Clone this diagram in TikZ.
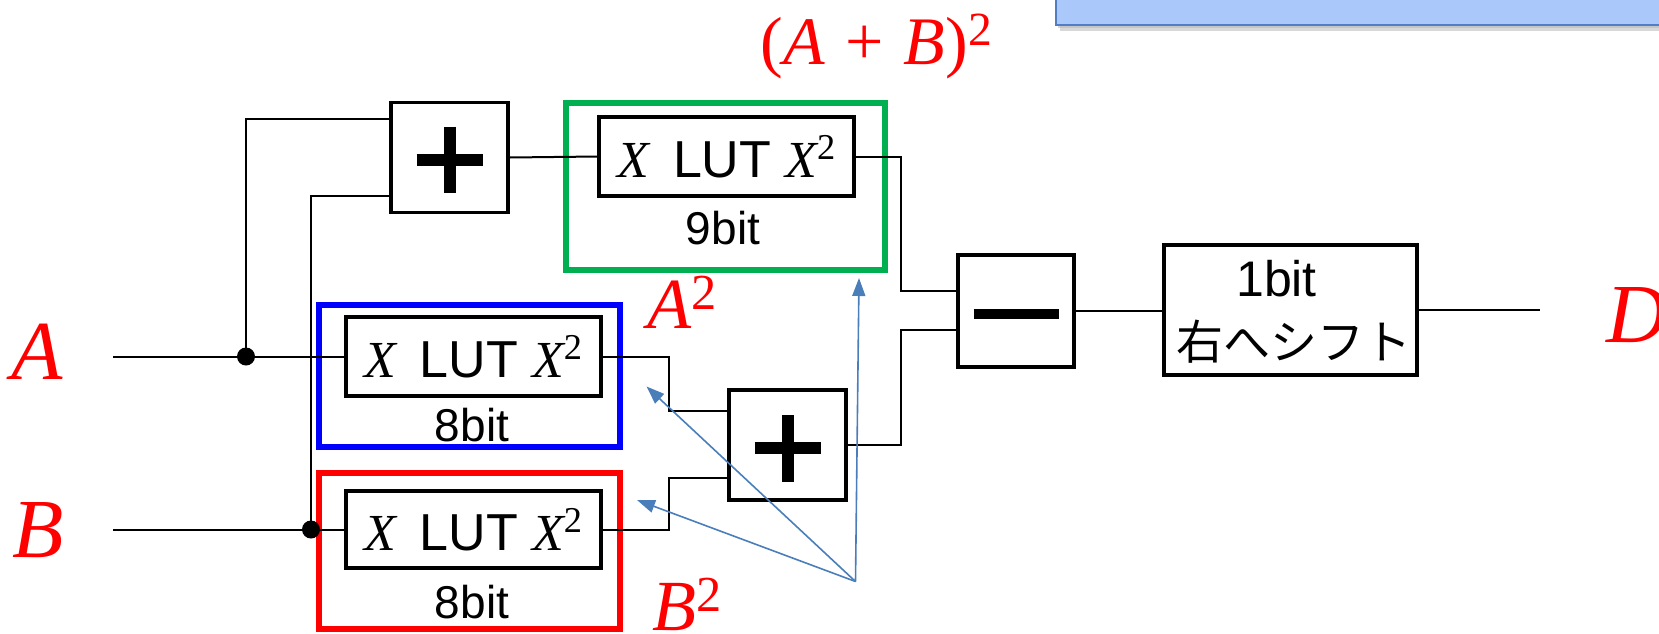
\documentclass[tikz,border=0pt]{standalone}
\usepackage{fontspec}
\setmainfont{Liberation Sans}
\newfontfamily\tms{Liberation Serif}
\newfontfamily\jp{Noto Sans CJK JP}
\usetikzlibrary{arrows.meta,calc}
\definecolor{gframe}{RGB}{0,176,80}
\definecolor{bframe}{RGB}{0,0,255}
\definecolor{rframe}{RGB}{255,0,0}
\definecolor{ptrblue}{RGB}{74,126,187}
\definecolor{hdrfill}{RGB}{170,200,250}
\definecolor{hdrline}{RGB}{80,125,195}
\newcommand{\lutX}{{\tms\itshape X}}
\newcommand{\luttext}{\lutX\hspace{12pt}LUT\hspace{7pt}\lutX\textsuperscript{\tms 2}}
\begin{document}
\begin{tikzpicture}[x=0.5pt,y=-0.5pt,
  wire/.style={line width=1pt,black},
  opbox/.style={draw,line width=1.6pt,inner sep=0pt,minimum width=58.5pt,minimum height=55pt},
  opsign/.style={line width=6pt},
  lutbox/.style={draw,line width=2pt,inner sep=0pt,minimum width=127.5pt,minimum height=39.5pt,
    font=\fontsize{26pt}{30pt}\selectfont},
  framebox/.style={draw,line width=2.6pt,inner sep=0pt},
  bitlbl/.style={inner sep=0pt,font=\fontsize{23pt}{27pt}\selectfont},
  dotn/.style={circle,fill=black,inner sep=0pt,minimum size=9pt},
  redlbl/.style={text=red,inner sep=0pt},
  pointer/.style={draw=ptrblue,line width=0.8pt,-{Triangle[length=9pt,width=6.5pt]}}]
\useasboundingbox (0,0) rectangle (1659,633);
\clip (0,0) rectangle (1659,633);

% header box (cut off at top right)
\fill[black!30,opacity=0.5] (1060,-10) rectangle (1670,31);
\fill[black!30,opacity=0.5] (1058,-10) rectangle (1670,28);
\draw[hdrline,line width=1.2pt,fill=hdrfill] (1056,-10) rectangle (1670,25);

% operator boxes
\node[opbox] (plus1) at (449.5,157.5) {};
\draw[opsign] ($(plus1.center)+(-33,2)$) -- ($(plus1.center)+(33,2)$);
\draw[opsign] ($(plus1.center)+(0,-31)$) -- ($(plus1.center)+(0,35)$);

\node[opbox] (plus2) at (787.5,445) {};
\draw[opsign] ($(plus2.center)+(-33,3)$) -- ($(plus2.center)+(33,3)$);
\draw[opsign] ($(plus2.center)+(0,-30)$) -- ($(plus2.center)+(0,37)$);

\node[opbox,minimum width=58pt,minimum height=56pt] (minus) at (1016,311) {};
\draw[line width=5pt] ($(minus.center)+(-42.5,3)$) -- ($(minus.center)+(42.5,3)$);

\node[opbox,minimum width=126.5pt,minimum height=65pt] (shift) at (1290.5,310) {};
\node[inner sep=0pt,anchor=base,font=\fontsize{25pt}{29pt}\selectfont] (shiftbit) at (1276.5,296.5) {1bit};
\node[inner sep=0pt,font=\jp\fontsize{23.5pt}{27pt}\selectfont] (shifttxt) at (1294,342) {右へシフト};

% LUT frames
\node[framebox,draw=gframe,minimum width=159.5pt,minimum height=83.5pt] (gfr) at (725.5,186.5) {};
\node[lutbox] (lutG) at (726.75,156.5) {\luttext};
\node[bitlbl,anchor=base] (bitG) at (723,244) {9bit};

\node[framebox,draw=bframe,minimum width=150.5pt,minimum height=71pt] (bfr) at (469.5,376) {};
\node[lutbox] (lutA) at (473.5,356.5) {\luttext};
\node[bitlbl,anchor=base] (bitA) at (472,441) {8bit};

\node[framebox,draw=rframe,minimum width=150.5pt,minimum height=78pt] (rfr) at (469.5,551) {};
\node[lutbox,minimum height=38.5pt] (lutB) at (473.5,529.5) {\luttext};
\node[bitlbl,anchor=base] (bitB) at (472,618) {8bit};

% inputs
\coordinate (Ain) at (113,356.5);
\coordinate (Bin) at (113,529.5);
\node[dotn] (dotA) at (246,356.5) {};
\node[dotn] (dotB) at (311,529.5) {};
\draw[wire] (Ain) -- (lutA.west);
\draw[wire] (Bin) -- (lutB.west);
\draw[wire] (dotA.center) |- ($(plus1.west)+(0,-38.5)$);
\draw[wire] (dotB.center) |- ($(plus1.west)+(0,38)$);

% internal wiring
\draw[wire] (plus1.east) -- (lutG.west);
\coordinate (jA) at (669,0);
\coordinate (jM) at (901,0);
\draw[wire] (lutA.east) -- (lutA.east -| jA) |- ($(plus2.west)+(0,-34)$);
\draw[wire] (lutB.east) -- (lutB.east -| jA) |- ($(plus2.west)+(0,33)$);
\draw[wire] (lutG.east) -- (lutG.east -| jM) |- ($(minus.west)+(0,-20)$);
\draw[wire] (plus2.east) -- (plus2.east -| jM) |- ($(minus.west)+(0,19)$);
\draw[wire] (minus.east) -- (minus.east -| shift.west);
\coordinate (Dout) at (1540,310);
\draw[wire] (shift.east) -- (Dout);

% pointer arrows
\coordinate (src) at (855.5,581.5);
\coordinate (tipA) at (646.5,386.5);
\coordinate (tipB) at (637,500);
\coordinate (tipG) at (859,278);
\draw[pointer] (src) -- (tipA);
\draw[pointer] (src) -- (tipB);
\draw[pointer] (src) -- (tipG);

% red labels
\node[redlbl,font=\tms\itshape\fontsize{42pt}{46pt}\selectfont] (labA) at (37.5,352) {A};
\node[redlbl,font=\tms\itshape\fontsize{42pt}{46pt}\selectfont] (labB) at (38.5,530) {B};
\node[redlbl,anchor=base west,font=\tms\fontsize{42pt}{46pt}\selectfont] (labD) at (1606,342) {\itshape D};
\node[redlbl,anchor=base west,font=\tms\fontsize{36pt}{40pt}\selectfont] (labA2) at (647,328) {\textit{A}\textsuperscript{2}};
\node[redlbl,anchor=base west,font=\tms\fontsize{36pt}{40pt}\selectfont] (labB2) at (652,630) {\textit{B}\textsuperscript{2}};
\node[redlbl,anchor=base west,font=\tms\fontsize{34pt}{38pt}\selectfont] (labAB) at (760,64) {(\textit{A}\hspace{0.3em}+\hspace{0.3em}\textit{B})\textsuperscript{2}};
\end{tikzpicture}
\end{document}
